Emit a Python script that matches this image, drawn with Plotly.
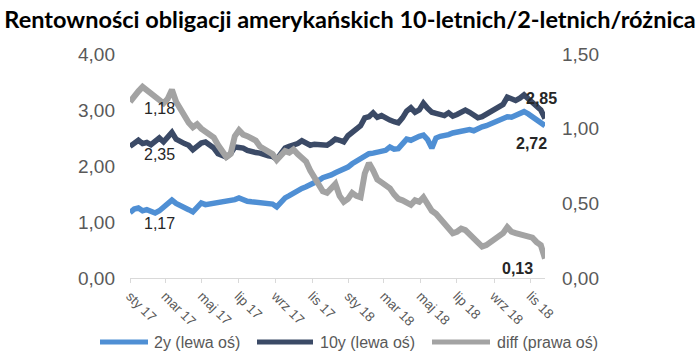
import pandas as pd
import plotly.graph_objects as go

# weekly observations, starting first week of January 2017
start_date = "2017-01-01"
n_points = 100

y2 = [1.17, 1.23, 1.25, 1.20, 1.22, 1.18, 1.16, 1.20, 1.27, 1.33,
      1.39, 1.33, 1.30, 1.27, 1.22, 1.18, 1.28, 1.34, 1.31, 1.32,
      1.34, 1.36, 1.35, 1.38, 1.37, 1.40, 1.43, 1.39, 1.37, 1.36,
      1.35, 1.36, 1.35, 1.34, 1.32, 1.27, 1.36, 1.43, 1.47, 1.52,
      1.56, 1.60, 1.63, 1.66, 1.70, 1.74, 1.79, 1.81, 1.84, 1.88,
      1.91, 1.93, 1.98, 2.04, 2.08, 2.14, 2.17, 2.22, 2.23, 2.25,
      2.26, 2.28, 2.34, 2.30, 2.31, 2.40, 2.48, 2.46, 2.50, 2.53,
      2.55, 2.47, 2.32, 2.50, 2.53, 2.54, 2.56, 2.59, 2.60, 2.62,
      2.64, 2.65, 2.63, 2.67, 2.70, 2.72, 2.75, 2.78, 2.82, 2.85,
      2.88, 2.87, 2.90, 2.93, 2.97, 2.93, 2.87, 2.82, 2.78, 2.72]

y10 = [2.35, 2.42, 2.46, 2.40, 2.42, 2.38, 2.45, 2.50, 2.43, 2.52,
       2.60, 2.48, 2.43, 2.40, 2.37, 2.29, 2.35, 2.41, 2.43, 2.38,
       2.32, 2.22, 2.20, 2.16, 2.22, 2.34, 2.33, 2.32, 2.28, 2.25,
       2.24, 2.23, 2.20, 2.18, 2.17, 2.12, 2.22, 2.32, 2.35, 2.37,
       2.40, 2.45, 2.40, 2.37, 2.39, 2.38, 2.36, 2.37, 2.42, 2.48,
       2.46, 2.43, 2.54, 2.60, 2.66, 2.72, 2.86, 2.88, 2.95, 2.87,
       2.90, 2.85, 2.82, 2.79, 2.77, 2.86, 2.98, 3.04, 2.96, 3.00,
       3.12, 3.03, 2.96, 2.94, 2.92, 2.90, 2.95, 2.89, 2.92, 2.96,
       3.00, 2.96, 2.90, 2.86, 2.88, 2.92, 2.96, 3.00, 3.05, 3.10,
       3.23, 3.19, 3.17, 3.21, 3.27, 3.20, 3.14, 3.07, 3.00, 2.85]

diff = [1.18, 1.22, 1.25, 1.28, 1.26, 1.24, 1.21, 1.19, 1.17, 1.20,
        1.26, 1.18, 1.13, 1.10, 1.04, 1.01, 1.03, 1.00, 0.98, 0.95,
        0.94, 0.89, 0.85, 0.81, 0.83, 0.95, 0.99, 0.96, 0.95, 0.93,
        0.92, 0.88, 0.86, 0.84, 0.83, 0.79, 0.82, 0.85, 0.84, 0.86,
        0.83, 0.80, 0.78, 0.72, 0.67, 0.61, 0.58, 0.57, 0.60, 0.63,
        0.55, 0.51, 0.53, 0.57, 0.55, 0.54, 0.70, 0.77, 0.72, 0.66,
        0.64, 0.62, 0.60, 0.56, 0.53, 0.52, 0.50, 0.49, 0.52, 0.51,
        0.54, 0.49, 0.45, 0.43, 0.40, 0.37, 0.34, 0.30, 0.31, 0.33,
        0.32, 0.29, 0.27, 0.23, 0.21, 0.22, 0.24, 0.26, 0.27, 0.30,
        0.34, 0.31, 0.30, 0.29, 0.28, 0.27, 0.27, 0.24, 0.22, 0.13]

series_names = ["2y (lewa oś)", "10y (lewa oś)", "diff (prawa oś)"]

tick_dates = ["2017-01-01", "2017-03-01", "2017-05-01", "2017-07-01", "2017-09-01", "2017-11-01",
              "2018-01-01", "2018-03-01", "2018-05-01", "2018-07-01", "2018-09-01", "2018-11-01"]
tick_labels = ["sty 17", "mar 17", "maj 17", "lip 17", "wrz 17", "lis 17",
               "sty 18", "mar 18", "maj 18", "lip 18", "wrz 18", "lis 18"]

left_ticks = [0, 1, 2, 3, 4]
right_ticks = [0, 0.5, 1.0, 1.5]

dates = pd.date_range(start_date, periods=n_points, freq="7D")

C2 = "#4f8fd4"
C10 = "#3b4a66"
CD = "#a3a3a3"
FONT = "Liberation Sans, Arial, sans-serif"

# plot area geometry (px) used for the hand-made legend
L, R, T, B = 130, 545, 54, 278
W, H = R - L, B - T


def pl(v):
    return f"{v:.2f}".replace(".", ",")


def px(xp):
    return (xp - L) / W


def py(yp):
    return (B - yp) / H


fig = go.Figure()
fig.add_trace(go.Scatter(x=dates, y=y2, name=series_names[0], mode="lines",
                         line=dict(color=C2, width=5.5)))
fig.add_trace(go.Scatter(x=dates, y=y10, name=series_names[1], mode="lines",
                         line=dict(color=C10, width=5.5)))
fig.add_trace(go.Scatter(x=dates, y=diff, name=series_names[2], mode="lines",
                         line=dict(color=CD, width=6), yaxis="y2"))

ann = []
lab_font = dict(family=FONT, size=16, color="#262626")
# start labels
ann.append(dict(x=dates[0], y=diff[0], yref="y2", text=pl(diff[0]), xanchor="left",
                yanchor="middle", xshift=12, yshift=-7, showarrow=False, font=lab_font))
ann.append(dict(x=dates[0], y=y10[0], yref="y", text=pl(y10[0]), xanchor="left",
                yanchor="middle", xshift=12, yshift=-8, showarrow=False, font=lab_font))
ann.append(dict(x=dates[0], y=y2[0], yref="y", text=pl(y2[0]), xanchor="left",
                yanchor="middle", xshift=12, yshift=-11, showarrow=False, font=lab_font))
# end labels
ann.append(dict(x=dates[-1], y=y10[-1], yref="y", text="<b>" + pl(y10[-1]) + "</b>", xanchor="center",
                yanchor="middle", xshift=-4, yshift=20, showarrow=False, font=lab_font))
ann.append(dict(x=dates[-1], y=y2[-1], yref="y", text="<b>" + pl(y2[-1]) + "</b>", xanchor="center",
                yanchor="middle", xshift=-14, yshift=-18, showarrow=False, font=lab_font))
ann.append(dict(x=dates[-1], y=diff[-1], yref="y2", text="<b>" + pl(diff[-1]) + "</b>", xanchor="center",
                yanchor="middle", xshift=-28, yshift=-10, showarrow=False, font=lab_font))

# hand-made legend
shapes = []
leg_y = 342
leg_items = [(100, 148, 152, C2), (257, 313, 318, C10), (432, 490, 495, CD)]
for (x0, x1, xt, col), name in zip(leg_items, series_names):
    shapes.append(dict(type="line", xref="paper", yref="paper", x0=px(x0), x1=px(x1),
                       y0=py(leg_y), y1=py(leg_y), line=dict(color=col, width=5)))
    ann.append(dict(xref="paper", yref="paper", x=px(xt), y=py(leg_y), text=name,
                    xanchor="left", yanchor="middle", showarrow=False,
                    font=dict(family=FONT, size=16, color="#595959")))

fig.update_layout(
    width=700, height=363,
    margin=dict(l=L, r=700 - R, t=T, b=363 - B),
    paper_bgcolor="white", plot_bgcolor="white",
    title=dict(text="<b>Rentowności obligacji amerykańskich 10-letnich/2-letnich/różnica</b>",
               x=0.5, xanchor="center", xref="container", y=0.945, yanchor="middle",
               font=dict(family="Lato, sans-serif", size=23.5, color="#000000")),
    showlegend=False,
    xaxis=dict(type="date", range=[dates[0], dates[-1]], tickvals=tick_dates, ticktext=tick_labels,
               tickangle=45, showgrid=False, zeroline=False, showline=True, linecolor="#d9d9d9",
               ticks="outside", ticklen=4, tickcolor="#d9d9d9",
               tickfont=dict(family=FONT, size=13.5, color="#595959")),
    yaxis=dict(range=[0, 4], tickvals=left_ticks, ticktext=[pl(v) for v in left_ticks],
               showgrid=False, zeroline=False, showline=False, ticklabelstandoff=14,
               tickfont=dict(family=FONT, size=19, color="#595959")),
    yaxis2=dict(range=[0, 1.5], tickvals=right_ticks, ticktext=[pl(v) for v in right_ticks],
                overlaying="y", side="right", showgrid=False, zeroline=False, showline=False,
                ticklabelstandoff=16,
                tickfont=dict(family=FONT, size=19, color="#595959")),
    shapes=shapes,
    annotations=ann,
)

fig.write_html("out.html", config={"displayModeBar": False},
               post_script="document.body.style.margin='0px';")
